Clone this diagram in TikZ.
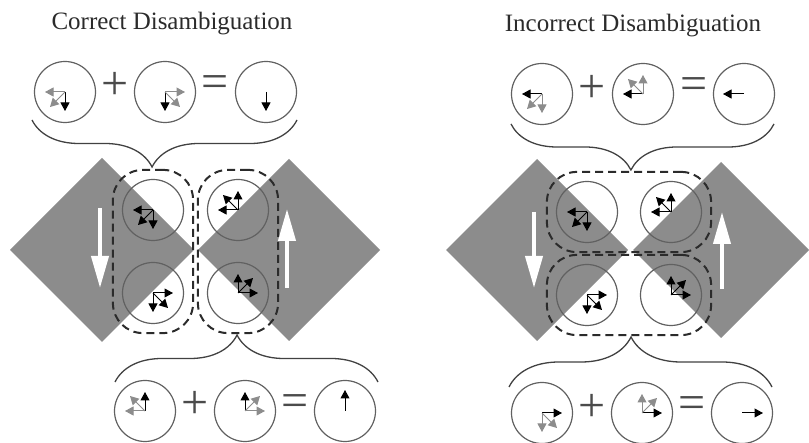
\documentclass[tikz,border=0pt]{standalone}
\usepackage{fontspec}
\setmainfont{Liberation Serif}
\usetikzlibrary{arrows.meta,fit,decorations.pathreplacing}

\definecolor{slab}{gray}{0.55}
\definecolor{ringgray}{gray}{0.38}
\definecolor{ghost}{gray}{0.55}
\definecolor{ink}{gray}{0.17}

% three velocity arrows out of a circle's centre:
% #1 circle, #2 x sign, #3 y sign, #4-#6 colours (horizontal, vertical, diagonal)
\newcommand{\vtrio}[6]{%
  \draw[vec,#4] (#1.center) -- ++(#2*20,0);
  \draw[vec,#5] (#1.center) -- ++(0,#3*19);
  \draw[vec,#6] (#1.center) -- ++(#2*15,#3*15);}

\begin{document}
\begin{tikzpicture}[x=1pt,y=-1pt,
ring/.style={circle,draw=ringgray,line width=1.2pt,minimum size=61pt,inner sep=0pt},
vec/.style={line width=1pt,-{Triangle[length=8.5pt,width=9pt]}},
op/.style={font=\fontsize{48}{48}\selectfont,text=ink!85,inner sep=0pt},
title/.style={font=\fontsize{25}{30}\selectfont,text=ink,anchor=base},
group/.style={draw=ink,line width=2pt,dash pattern=on 8pt off 5pt,rounded corners=30pt,inner sep=9pt},
motion/.style={white,line width=4pt,-{Triangle[length=32pt,width=17pt]}},
curly/.style={draw=ink!90,line width=1.3pt,decorate}]
\useasboundingbox (0,0) rectangle (809,443);

% grey squares
\fill[slab] (10,250) -- (102,158) -- (194,250) -- (102,342) -- cycle;
\fill[slab] (198,250) -- (289,159) -- (380,250) -- (289,341) -- cycle;
\fill[slab] (446,250) -- (537,159) -- (628,250) -- (537,341) -- cycle;
\fill[slab] (633,250) -- (721,162) -- (809,250) -- (721,338) -- cycle;

% their motion
\coordinate (m1) at (100,208);
\coordinate (m2) at (100,288);
\coordinate (m3) at (287,288);
\coordinate (m4) at (287,209);
\coordinate (m5) at (534,212);
\coordinate (m6) at (534,288);
\coordinate (m7) at (722,289);
\coordinate (m8) at (722,212);
\draw[motion] (m1) -- (m2);
\draw[motion] (m3) -- (m4);
\draw[motion] (m5) -- (m6);
\draw[motion] (m7) -- (m8);

\node[title] (T1) at (172,30) {Correct Disambiguation};
\node[title] (T2) at (633,32) {Incorrect Disambiguation};

% left: correct
\node[ring] (A1) at (65,92) {};
\node[ring] (A2) at (165,92) {};
\node[ring] (A3) at (266,92) {};
\node[ring] (A4) at (153,210) {};
\node[ring] (A5) at (238,210) {};
\node[ring] (A6) at (153,293) {};
\node[ring] (A7) at (238,293) {};
\node[ring] (A8) at (145,411) {};
\node[ring] (A9) at (245,411) {};
\node[ring] (A10) at (345,411) {};
\node[op] (P1) at (115,86) {+};
\node[op] (E1) at (215,87) {=};
\node[op] (P2) at (195,405) {+};
\node[op] (E2) at (295,406) {=};

% right: incorrect
\node[ring] (B1) at (542,94) {};
\node[ring] (B2) at (643,94) {};
\node[ring] (B3) at (744,94) {};
\node[ring] (B4) at (587,212) {};
\node[ring] (B5) at (671,212) {};
\node[ring] (B6) at (587,295) {};
\node[ring] (B7) at (671,295) {};
\node[ring] (B8) at (542,413) {};
\node[ring] (B9) at (642,413) {};
\node[ring] (B10) at (742,413) {};
\node[op] (P3) at (592,89) {+};
\node[op] (E3) at (694,89) {=};
\node[op] (P4) at (592,408) {+};
\node[op] (E4) at (692,408) {=};

% vectors
\vtrio{A1}{-1}{1}{ghost}{black}{ghost}
\vtrio{A2}{1}{1}{ghost}{black}{ghost}
\draw[vec] (A3.center) -- ++(0,19);
\vtrio{A4}{-1}{1}{black}{black}{black}
\vtrio{A5}{-1}{-1}{black}{black}{black}
\vtrio{A6}{1}{1}{black}{black}{black}
\vtrio{A7}{1}{-1}{black}{black}{black}
\vtrio{A8}{-1}{-1}{ghost}{black}{ghost}
\vtrio{A9}{1}{-1}{ghost}{black}{ghost}
\draw[vec] (A10.center) -- ++(0,-21);

\vtrio{B1}{-1}{1}{black}{ghost}{ghost}
\vtrio{B2}{-1}{-1}{black}{ghost}{ghost}
\draw[vec] (B3.center) -- ++(-21,0);
\vtrio{B4}{-1}{1}{black}{black}{black}
\vtrio{B5}{-1}{-1}{black}{black}{black}
\vtrio{B6}{1}{1}{black}{black}{black}
\vtrio{B7}{1}{-1}{black}{black}{black}
\vtrio{B8}{1}{1}{black}{ghost}{ghost}
\vtrio{B9}{1}{-1}{black}{ghost}{ghost}
\draw[vec] (B10.center) -- ++(21,0);

% dashed pairings
\node[group,fit=(A4)(A6)] (G1) {};
\node[group,fit=(A5)(A7)] (G2) {};
\node[group,fit=(B4)(B5)] (G3) {};
\node[group,fit=(B6)(B7)] (G4) {};

% braces
\coordinate (u1) at (32,120);
\coordinate (u2) at (297,120);
\coordinate (d1) at (115,382);
\coordinate (d2) at (378,382);
\coordinate (u3) at (511,124);
\coordinate (u4) at (774,124);
\coordinate (d3) at (509,387);
\coordinate (d4) at (772,387);
\draw[curly,decoration={brace,mirror,amplitude=47pt,aspect=0.453}] (u1) -- (u2);
\draw[curly,decoration={brace,amplitude=47pt,aspect=0.464}] (d1) -- (d2);
\draw[curly,decoration={brace,mirror,amplitude=46pt,aspect=0.456}] (u3) -- (u4);
\draw[curly,decoration={brace,amplitude=50pt,aspect=0.464}] (d3) -- (d4);
\end{tikzpicture}
\end{document}
